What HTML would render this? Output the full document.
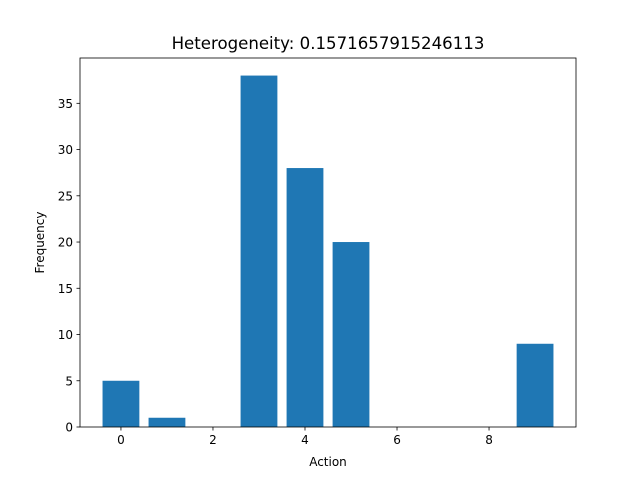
<!DOCTYPE html>
<html><head><meta charset="utf-8"><style>
body{margin:0;background:#fff;}
svg{display:block;font-family:"DejaVu Sans","Liberation Sans",sans-serif;}
</style></head><body>
<svg id="chart" width="640" height="480" viewBox="0 0 640 480">
<rect width="640" height="480" fill="#fff"/>
<text x="328" y="49" text-anchor="middle" font-size="16.6">Heterogeneity: 0.1571657915246113</text>
<g id="bars"></g>
<rect x="80" y="58" width="496" height="369" fill="none" stroke="#000" stroke-width="0.8"/>
<g id="xt"></g><g id="yt"></g>
<text x="328" y="466" text-anchor="middle" font-size="12">Action</text>
<text transform="translate(44,242.5) rotate(-90)" text-anchor="middle" font-size="12">Frequency</text>
</svg>
<script>
const categories=[0,1,2,3,4,5,6,7,8,9];
const values=[5,1,0,38,28,20,0,0,0,9];
const xTicks=[0,2,4,6,8];
const yTicks=[0,5,10,15,20,25,30,35];
const L=80,R=576,T=58,B=427;
const xmin=-0.89,xmax=9.89,ymax=Math.max(...values)*1.05;
const sx=v=>L+(v-xmin)/(xmax-xmin)*(R-L);
const sy=v=>B-v/ymax*(B-T);
const ns="http://www.w3.org/2000/svg";
const bars=document.getElementById('bars');
categories.forEach((c,i)=>{
 if(values[i]<=0)return;
 const r=document.createElementNS(ns,'rect');
 r.setAttribute('x',sx(c-0.4));r.setAttribute('width',sx(c+0.4)-sx(c-0.4));
 r.setAttribute('y',sy(values[i]));r.setAttribute('height',sy(0)-sy(values[i]));
 r.setAttribute('fill','#1f77b4');
 
 
 bars.appendChild(r);
});
const xt=document.getElementById('xt');
xTicks.forEach(t=>{
 const x=sx(t);
 const l=document.createElementNS(ns,'line');
 l.setAttribute('x1',x);l.setAttribute('x2',x);l.setAttribute('y1',B);l.setAttribute('y2',B+3.5);l.setAttribute('stroke','#000');l.setAttribute('stroke-width','0.8');
 
 
 xt.appendChild(l);
 const s=document.createElementNS(ns,'text');
 s.setAttribute('x',x);s.setAttribute('y',B+17);s.setAttribute('text-anchor','middle');s.setAttribute('font-size','12');s.textContent=t;
 
 
 xt.appendChild(s);
});
const yt=document.getElementById('yt');
yTicks.forEach(t=>{
 const y=sy(t);
 const l=document.createElementNS(ns,'line');
 l.setAttribute('x1',L-3.5);l.setAttribute('x2',L);l.setAttribute('y1',y);l.setAttribute('y2',y);l.setAttribute('stroke','#000');l.setAttribute('stroke-width','0.8');
 
 
 yt.appendChild(l);
 const s=document.createElementNS(ns,'text');
 s.setAttribute('x',L-7);s.setAttribute('y',y+4.5);s.setAttribute('text-anchor','end');s.setAttribute('font-size','12');s.textContent=t;
 
 
 yt.appendChild(s);
});
</script>
</body></html>
